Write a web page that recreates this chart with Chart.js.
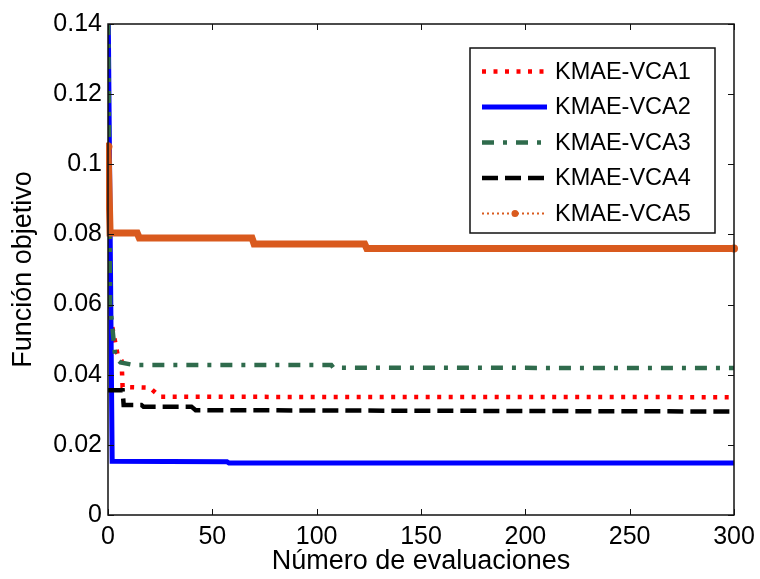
<!DOCTYPE html>
<html>
<head>
<meta charset="utf-8">
<script src="https://cdn.jsdelivr.net/npm/chart.js@4"></script>
<style>
  body { margin: 0; background: #fff; }
</style>
</head>
<body>
<canvas id="myChart" width="760" height="579"></canvas>
<script>
// series data
var seriesNames = ["KMAE-VCA1", "KMAE-VCA2", "KMAE-VCA3", "KMAE-VCA4", "KMAE-VCA5"];

var evals1 = [0, 4.5, 6.5, 7, 20, 25, 300];
var vca1 = [0.06, 0.046, 0.044, 0.0365, 0.0363, 0.0337, 0.0336];

var evals2 = [0, 2, 57, 58, 300];
var vca2 = [0.15, 0.0153, 0.0152, 0.0148, 0.0148];

var evals3 = [0, 1, 2, 3.5, 6, 12, 107, 108, 300];
var vca3 = [0.15, 0.06, 0.054, 0.045, 0.0435, 0.0428, 0.0428, 0.042, 0.0419];

var evals4 = [0, 7, 7.5, 16, 17, 40, 42, 300];
var vca4 = [0.0356, 0.0356, 0.0314, 0.0314, 0.0309, 0.0309, 0.0299, 0.0295];

var evals5 = [0, 1, 14, 15, 69, 70, 123, 124, 300];
var vca5 = [0.105, 0.0804, 0.0804, 0.079, 0.079, 0.0773, 0.0773, 0.076, 0.076];

var xTickLabels = ["0", "50", "100", "150", "200", "250", "300"];
var yTickLabels = ["0", "0.02", "0.04", "0.06", "0.08", "0.1", "0.12", "0.14"];

var FONT = "'Liberation Sans', Arial, sans-serif";

function pts(xs, ys) {
    return xs.map((x, i) => ({ x: x, y: ys[i] }));
}

// legend sample styles (what MATLAB shows in the legend box)
var legendStyle = [
    { color: "#ff0000", width: 4.5, dash: [4, 7.5] },
    { color: "#0000ff", width: 5, dash: [] },
    { color: "#2f6b4c", width: 4.5, dash: [12, 9, 4, 9] },
    { color: "#000000", width: 4.5, dash: [16, 7] },
    { color: "#d95a1e", width: 2, dash: [2, 3], marker: true }
];

// box + inward ticks like a matlab axes
var framePlugin = {
    id: "frame",
    afterDatasetsDraw(chart) {
        let ctx = chart.ctx;
        let a = chart.chartArea;
        let xs = chart.scales.x, ys = chart.scales.y;
        ctx.save();
        ctx.strokeStyle = "#111";
        ctx.lineWidth = 1.5;
        ctx.strokeRect(a.left, a.top, a.right - a.left, a.bottom - a.top);
        ctx.lineWidth = 1;
        let tl = 6;
        ys.ticks.forEach(t => {
            let y = Math.round(ys.getPixelForValue(t.value)) + 0.5;
            ctx.beginPath();
            ctx.moveTo(a.left, y); ctx.lineTo(a.left + tl, y);
            ctx.moveTo(a.right, y); ctx.lineTo(a.right - tl, y);
            ctx.stroke();
        });
        xs.ticks.forEach(t => {
            let x = Math.round(xs.getPixelForValue(t.value)) + 0.5;
            ctx.beginPath();
            ctx.moveTo(x, a.bottom); ctx.lineTo(x, a.bottom - tl);
            ctx.moveTo(x, a.top); ctx.lineTo(x, a.top + tl);
            ctx.stroke();
        });
        ctx.restore();
    }
};

var legendPlugin = {
    id: "boxLegend",
    afterDraw(chart) {
        let ctx = chart.ctx;
        let bx = 470, by = 48, bw = 245, bh = 185;
        ctx.save();
        ctx.fillStyle = "#fff";
        ctx.fillRect(bx, by, bw, bh);
        ctx.strokeStyle = "#111";
        ctx.lineWidth = 1.5;
        ctx.strokeRect(bx, by, bw, bh);
        ctx.font = "23.5px " + FONT;
        ctx.textBaseline = "middle";
        chart.data.datasets.forEach((ds, i) => {
            let s = legendStyle[i];
            let y = 71.5 + i * 35.5;
            ctx.strokeStyle = s.color;
            ctx.lineWidth = s.width;
            ctx.setLineDash(s.dash);
            ctx.beginPath();
            ctx.moveTo(482, y);
            ctx.lineTo(547, y);
            ctx.stroke();
            ctx.setLineDash([]);
            if (s.marker) {
                ctx.fillStyle = s.color;
                ctx.beginPath();
                ctx.arc(515, y, 3.5, 0, Math.PI * 2);
                ctx.fill();
            }
            ctx.fillStyle = "#000";
            ctx.fillText(ds.label, 555, y + 1);
        });
        ctx.restore();
    }
};

var ctx = document.getElementById("myChart");

var myChart = new Chart(ctx, {
    type: "line",
    data: {
        datasets: [
            {
                label: seriesNames[0],
                data: pts(evals1, vca1),
                borderColor: "#ff0000",
                borderWidth: 4.5,
                borderDash: [4, 7.5],
                pointRadius: 0,
                order: 5
            },
            {
                label: seriesNames[1],
                data: pts(evals2, vca2),
                borderColor: "#0000ff",
                borderWidth: 5,
                pointRadius: 0,
                order: 4
            },
            {
                label: seriesNames[2],
                data: pts(evals3, vca3),
                borderColor: "#2f6b4c",
                borderWidth: 4.5,
                borderDash: [12, 9, 4, 9],
                pointRadius: 0,
                order: 3
            },
            {
                label: seriesNames[3],
                data: pts(evals4, vca4),
                borderColor: "#000000",
                borderWidth: 4.5,
                borderDash: [16, 7],
                pointRadius: 0,
                order: 2
            },
            {
                label: seriesNames[4],
                data: pts(evals5, vca5),
                borderColor: "#d95a1e",
                backgroundColor: "#d95a1e",
                borderWidth: 7,
                pointRadius: [4.5, 0, 0, 0, 0, 0, 0, 0, 4],
                pointBorderWidth: 0,
                clip: { left: 2, top: 0, right: 8, bottom: 0 },
                order: 1
            }
        ]
    },
    options: {
        responsive: false,
        animation: false,
        events: [],
        layout: { padding: { left: 0, top: 24, right: 26, bottom: 0 } },
        plugins: {
            legend: { display: false },
            tooltip: { enabled: false }
        },
        elements: { line: { tension: 0 } },
        scales: {
            x: {
                type: "linear",
                min: 0,
                max: 300,
                grid: { display: false, drawTicks: false },
                border: { display: false },
                ticks: {
                    stepSize: 50,
                    padding: 7,
                    color: "#000",
                    font: { family: FONT, size: 25 },
                    maxRotation: 0,
                    callback: (v, i) => xTickLabels[i]
                },
                title: {
                    display: true,
                    text: "Número de evaluaciones",
                    color: "#000",
                    font: { family: FONT, size: 27 },
                    padding: { top: 0, bottom: 1 }
                },
                afterFit(scale) {
                    scale.height = 64;
                    scale.paddingLeft = 0;
                    scale.paddingRight = 0;
                }
            },
            y: {
                min: 0,
                max: 0.14,
                grid: { display: false, drawTicks: false },
                border: { display: false },
                ticks: {
                    stepSize: 0.02,
                    padding: 6,
                    color: "#000",
                    font: { family: FONT, size: 25 },
                    callback: (v, i) => yTickLabels[i]
                },
                title: {
                    display: true,
                    text: "Función objetivo",
                    color: "#000",
                    font: { family: FONT, size: 27 },
                    padding: { top: 7, bottom: 0 }
                },
                afterFit(scale) {
                    scale.width = 108;
                    scale.paddingTop = 0;
                    scale.paddingBottom = 0;
                }
            }
        }
    },
    plugins: [framePlugin, legendPlugin]
});
</script>
</body>
</html>
